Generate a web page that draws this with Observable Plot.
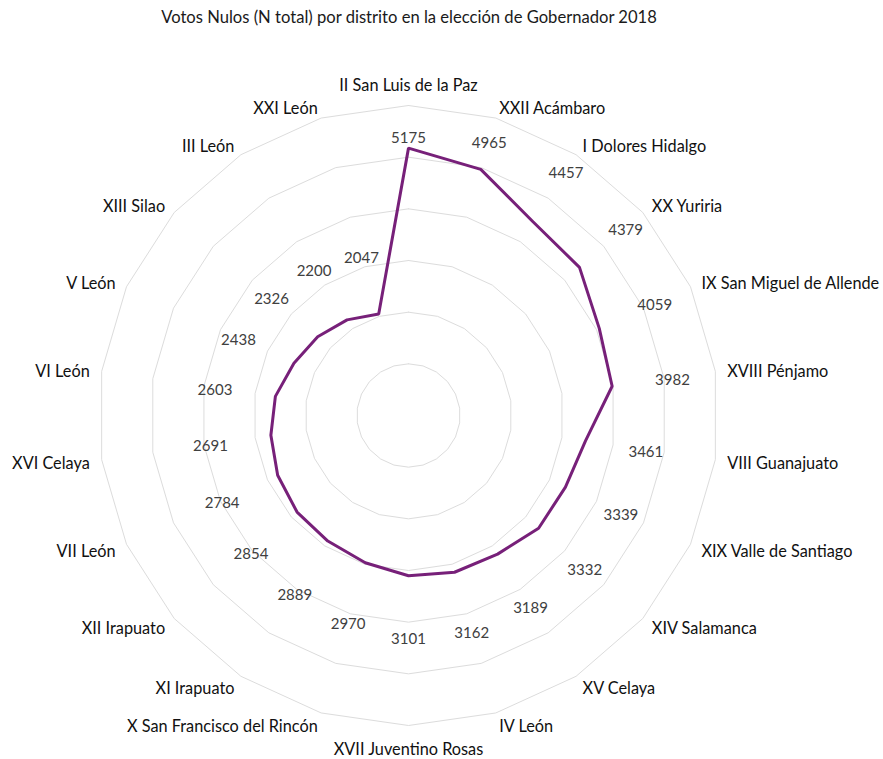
<!DOCTYPE html>
<html><head><meta charset="utf-8">
<script src="https://cdn.jsdelivr.net/npm/d3@7"></script>
<script src="https://cdn.jsdelivr.net/npm/@observablehq/plot@0.6"></script>
<style>
body{margin:0;background:#fff;font-family:Lato,"Open Sans",sans-serif;}
#title{height:36px;line-height:34px;width:818px;text-align:center;font-size:16.6px;color:#1a1a1a;}
</style></head><body>
<div id="title">Votos Nulos (N total) por distrito en la elección de Gobernador 2018</div>
<div id="chart"></div>
<script>
const districts = [
  "II San Luis de la Paz","XXII Acámbaro","I Dolores Hidalgo","XX Yuriria",
  "IX San Miguel de Allende","XVIII Pénjamo","VIII Guanajuato","XIX Valle de Santiago",
  "XIV Salamanca","XV Celaya","IV León","XVII Juventino Rosas",
  "X San Francisco del Rincón","XI Irapuato","XII Irapuato","VII León",
  "XVI Celaya","VI León","V León","XIII Silao","III León","XXI León"
];
const votes = [5175,4965,4457,4379,4059,3982,3461,3339,3332,3189,3162,3101,
               2970,2889,2854,2784,2691,2603,2438,2326,2200,2047];
const ringValues = [1000,2000,3000,4000,5000,6000];
const maxValue = 6000;

// layout
const W = 883, H = 723, cx = 408, cy = 379, outerPx = 310;
const ppu = outerPx / maxValue;           // pixels per vote unit
const n = districts.length;
const ang = i => i * 2 * Math.PI / n;
const px = p => p / ppu;                  // pixel distance -> data units

const rings = ringValues.flatMap(v =>
  d3.range(n + 1).map(i => ({ring: v, x: v * Math.sin(ang(i % n)), y: v * Math.cos(ang(i % n))})));

const pts = votes.map((v, i) => ({name: districts[i], v, x: v * Math.sin(ang(i)), y: v * Math.cos(ang(i))}));

const gapPx = i => i === 0 ? 12 : i === 1 ? 30 : 61;
const valLabels = votes.map((v, i) => {
  const r = v + px(gapPx(i));
  return {t: String(v), x: r * Math.sin(ang(i)), y: r * Math.cos(ang(i))};
});

const catLabels = districts.map((d, i) => {
  const mid = i === 0 || i === n / 2;
  const r = px(mid ? 332 : 322);
  const s = Math.sin(ang(i));
  return {t: d, x: r * s, y: r * Math.cos(ang(i)), side: mid ? "middle" : s > 0 ? "start" : "end"};
});

const catStyle = {x: "x", y: "y", text: "t", dy: 2.5, fontSize: 16.3, fill: "#111"};
const chart = Plot.plot({
  width: W, height: H,
  marginTop: 0, marginBottom: 0, marginLeft: 0, marginRight: 0,
  x: {domain: [-px(cx), px(W - cx)], axis: null},
  y: {domain: [-px(H - cy), px(cy)], axis: null},
  style: {fontFamily: "Lato, 'Open Sans', sans-serif", background: "#fff"},
  marks: [
    Plot.line(rings, {x: "x", y: "y", z: "ring", stroke: "#dcdcdc", strokeWidth: 1}),
    Plot.line(pts, {x: "x", y: "y", curve: "linear-closed", stroke: "#772079", strokeWidth: 3, strokeLinejoin: "miter"}),
    Plot.text(valLabels, {x: "x", y: "y", text: "t", dy: 2.5, fontSize: 15, fill: "#404040"}),
    Plot.text(catLabels.filter(d => d.side === "start"), {...catStyle, textAnchor: "start"}),
    Plot.text(catLabels.filter(d => d.side === "end"), {...catStyle, textAnchor: "end"}),
    Plot.text(catLabels.filter(d => d.side === "middle"), {...catStyle, textAnchor: "middle"})
  ]
});
document.getElementById("chart").appendChild(chart);
</script>
</body></html>
